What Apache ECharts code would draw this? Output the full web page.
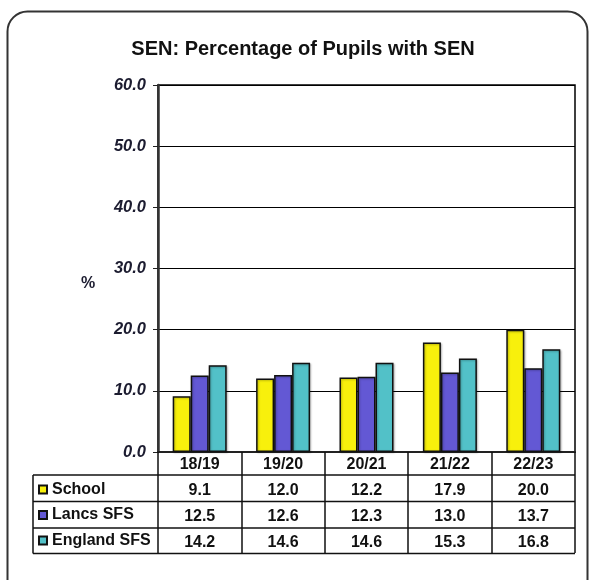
<!DOCTYPE html>
<html>
<head>
<meta charset="utf-8">
<script src="https://cdn.jsdelivr.net/npm/echarts@6/dist/echarts.min.js"></script>
<style>
  html, body { margin: 0; padding: 0; background: #fff; }
  #main { width: 590px; height: 580px; }
</style>
</head>
<body>
<div id="main"></div>
<script>
// data
var years = ['18/19', '19/20', '20/21', '21/22', '22/23'];
var school = [9.1, 12.0, 12.2, 17.9, 20.0];
var lancs = [12.5, 12.6, 12.3, 13.0, 13.7];
var england = [14.2, 14.6, 14.6, 15.3, 16.8];
var seriesNames = ['School', 'Lancs SFS', 'England SFS'];

var chart = echarts.init(document.getElementById('main'));

var FONT = 'Liberation Sans, Arial, sans-serif';
var rowH = 26.3; // table row height

function barStyle(color) {
  return {
    color: color,
    borderColor: '#111',
    borderWidth: 1.5,
    shadowColor: 'rgba(0,0,0,0.25)',
    shadowBlur: 2,
    shadowOffsetX: 1,
    shadowOffsetY: 1
  };
}

// one extra x axis per table row, it only carries the labels
function rowAxis(values, idx) {
  return {
    type: 'category',
    data: years,
    position: 'bottom',
    offset: rowH * idx - 2,
    axisLine: { show: false },
    axisTick: { show: false },
    axisLabel: {
      margin: 6,
      fontFamily: FONT,
      fontSize: 16,
      fontWeight: 'bold',
      color: '#111',
      formatter: function (v, i) { return values[i].toFixed(1); }
    }
  };
}

var option = {
  animation: false,
  backgroundColor: '#fff',
  title: {
    text: 'SEN: Percentage of Pupils with SEN',
    left: 298,
    textAlign: 'center',
    top: 34,
    textStyle: { fontFamily: FONT, fontSize: 20, fontWeight: 'bold', color: '#111' }
  },
  legend: {
    orient: 'vertical',
    left: 33,
    top: 476,
    itemWidth: 8,
    itemHeight: 8,
    itemGap: 8.5,
    icon: 'rect',
    data: seriesNames,
    textStyle: { fontFamily: FONT, fontSize: 16, fontWeight: 'bold', color: '#111', lineHeight: 17 }
  },
  grid: {
    left: 158,
    right: 15,
    top: 85,
    bottom: 128,
    show: true,
    borderColor: '#000',
    borderWidth: 1.5
  },
  xAxis: [
    {
      type: 'category',
      data: years,
      axisLine: { lineStyle: { color: '#222', width: 2 } },
      axisTick: { show: true, length: 101, lineStyle: { color: '#111', width: 1.5 } },
      axisLabel: {
        margin: 5,
        fontFamily: FONT,
        fontSize: 16,
        fontWeight: 'bold',
        color: '#111'
      }
    },
    rowAxis(school, 1),
    rowAxis(lancs, 2),
    rowAxis(england, 3)
  ],
  yAxis: {
    type: 'value',
    min: 0,
    max: 60,
    interval: 10,
    axisLine: { show: true, lineStyle: { color: '#333', width: 2.5 } },
    axisTick: { show: true, length: 5, lineStyle: { color: '#222' } },
    axisLabel: {
      margin: 12,
      fontFamily: FONT,
      fontSize: 16.5,
      fontWeight: 'bold',
      fontStyle: 'italic',
      color: '#1c1c30',
      formatter: function (v) { return v.toFixed(1); }
    },
    splitLine: { lineStyle: { color: '#000', width: 1 } }
  },
  series: [
    { name: seriesNames[0], type: 'bar', data: school, barWidth: 18, barGap: '0%', itemStyle: barStyle('#f8f00c') },
    { name: seriesNames[1], type: 'bar', data: lancs, barWidth: 18, barGap: '0%', itemStyle: barStyle('#6358d4') },
    { name: seriesNames[2], type: 'bar', data: england, barWidth: 18, barGap: '0%', itemStyle: barStyle('#52c1c8') }
  ],
  graphic: [
    // rounded frame
    {
      type: 'rect',
      shape: { x: 7.5, y: 11.5, width: 580, height: 600, r: 20 },
      style: { fill: 'none', stroke: '#333', lineWidth: 2 }
    },
    {
      type: 'text',
      left: 81,
      top: 276,
      style: { text: '%', fontFamily: FONT, fontSize: 16, fontWeight: 'bold', fill: '#1c1c30' }
    },
    // table rows
    { type: 'line', shape: { x1: 33, y1: 475, x2: 575, y2: 475 }, style: { stroke: '#111', lineWidth: 1.5 } },
    { type: 'line', shape: { x1: 33, y1: 501.5, x2: 575, y2: 501.5 }, style: { stroke: '#111', lineWidth: 1.5 } },
    { type: 'line', shape: { x1: 33, y1: 528, x2: 575, y2: 528 }, style: { stroke: '#111', lineWidth: 1.5 } },
    { type: 'line', shape: { x1: 33, y1: 553.5, x2: 575, y2: 553.5 }, style: { stroke: '#111', lineWidth: 1.5 } },
    { type: 'line', shape: { x1: 33, y1: 475, x2: 33, y2: 553.5 }, style: { stroke: '#111', lineWidth: 1.5 } }
  ]
};

chart.setOption(option);
</script>
</body>
</html>
